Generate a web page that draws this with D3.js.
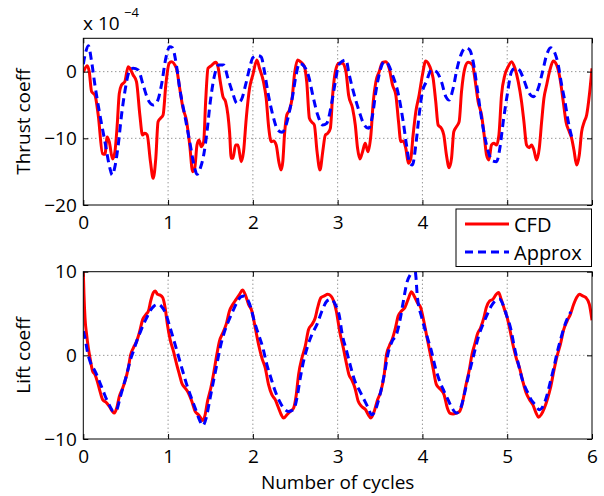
<!DOCTYPE html>
<html>
<head>
<meta charset="utf-8">
<script src="https://cdn.jsdelivr.net/npm/d3@7"></script>
<style>
body { margin: 0; background: #fff; }
svg { font-family: "Open Sans", sans-serif; }
.grid line { stroke: #444; stroke-width: 0.8; stroke-dasharray: 1,3; }
.tick line { stroke: #000; }
</style>
</head>
<body>
<svg width="604" height="496"></svg>
<script>
// tick values
var cycleTicks = [0, 1, 2, 3, 4, 5, 6];
var thrustTicks = [-20, -10, 0];
var liftTicks = [-10, 0, 10];
var seriesNames = ["CFD", "Approx"];

// thrust coefficient (units of 1e-4), [cycles, value]
var thrustCfd = [[0,-0.1],[0.047,0.9],[0.07,0],[0.098,-3],[0.137,-3.5],[0.176,-6.5],[0.227,-12.3],[0.255,-12.4],[0.282,-9.8],[0.306,-10.5],[0.345,-13.1],[0.373,-12],[0.4,-8],[0.424,-3.3],[0.451,-2],[0.49,-1.5],[0.529,0.75],[0.549,0.5],[0.588,-0.5],[0.627,-1.5],[0.667,-6.5],[0.698,-9.5],[0.725,-9.25],[0.753,-9.5],[0.792,-13.5],[0.824,-16],[0.855,-13],[0.882,-7.5],[0.91,-7],[0.941,-6.5],[0.973,-2],[1.012,1.25],[1.039,1.5],[1.098,0.5],[1.137,-2.5],[1.176,-5.5],[1.216,-7.25],[1.255,-11],[1.29,-15],[1.314,-14.5],[1.341,-11],[1.365,-10.25],[1.392,-11.25],[1.42,-10.5],[1.443,-4.5],[1.471,0.5],[1.51,0.9],[1.561,1.4],[1.588,0.75],[1.616,-1.5],[1.647,-3.75],[1.678,-4.5],[1.706,-6.5],[1.725,-9],[1.745,-13],[1.765,-13],[1.796,-11],[1.824,-11],[1.863,-13.5],[1.89,-12],[1.922,-7],[1.961,-2.5],[2.0,-0.5],[2.047,1.75],[2.078,0.5],[2.125,-1.5],[2.157,-4],[2.188,-8.5],[2.216,-10.5],[2.243,-10.4],[2.275,-11],[2.306,-13.5],[2.333,-14.75],[2.353,-13.5],[2.373,-9.5],[2.4,-6.5],[2.431,-5.75],[2.463,-4],[2.49,-0.5],[2.529,1.75],[2.569,1.4],[2.608,0.75],[2.635,-1.5],[2.667,-7],[2.698,-7.6],[2.725,-8],[2.757,-12],[2.792,-14.75],[2.824,-12],[2.855,-9.5],[2.882,-9.25],[2.914,-8.5],[2.941,-3.5],[2.973,0],[3.012,1.25],[3.059,1.25],[3.098,0],[3.129,-3.5],[3.176,-5.5],[3.208,-8],[3.235,-11.5],[3.263,-13.1],[3.294,-12],[3.325,-10.75],[3.357,-12],[3.392,-9.5],[3.42,-4.5],[3.451,-1.5],[3.49,0],[3.529,1.4],[3.569,1.5],[3.608,0.5],[3.647,-2],[3.686,-3.5],[3.718,-7.5],[3.745,-10.5],[3.773,-10.4],[3.804,-11.5],[3.835,-13.75],[3.863,-13],[3.89,-9.5],[3.922,-6],[3.961,-3.5],[4.0,-0.5],[4.039,1.6],[4.087,0.75],[4.126,-1],[4.157,-4.5],[4.185,-8],[4.224,-8.5],[4.252,-9.5],[4.283,-12.5],[4.315,-14.4],[4.343,-13],[4.37,-9],[4.402,-8.25],[4.433,-7.5],[4.461,-3],[4.5,0.5],[4.539,1.4],[4.591,1],[4.618,-1],[4.657,-4.5],[4.697,-6.5],[4.728,-9.5],[4.756,-12.5],[4.783,-13.25],[4.815,-11],[4.843,-10.75],[4.874,-11],[4.902,-9.5],[4.933,-3.5],[4.972,-0.5],[5.012,0.75],[5.051,1.5],[5.091,0.5],[5.13,-1.5],[5.169,-4.5],[5.197,-7.5],[5.228,-11],[5.26,-11.4],[5.287,-11],[5.315,-11.75],[5.346,-13.25],[5.378,-11.5],[5.406,-7.5],[5.433,-4],[5.465,-2],[5.504,0.25],[5.543,1.6],[5.583,1],[5.622,-1],[5.661,-4.5],[5.693,-7.5],[5.732,-9],[5.76,-10],[5.787,-11.75],[5.819,-14],[5.85,-12.5],[5.878,-9],[5.909,-7.5],[5.937,-6.5],[5.969,-3.5],[6.0,0.5]];

var thrustApprox = [[0,1.1],[0.03,3],[0.059,3.9],[0.098,1.5],[0.137,-2],[0.196,-6.5],[0.255,-10.5],[0.314,-14.5],[0.341,-15.5],[0.373,-14.25],[0.412,-11],[0.451,-6.5],[0.49,-3],[0.541,0],[0.588,0.5],[0.647,0.25],[0.706,-2],[0.765,-4.25],[0.824,-5],[0.871,-4.5],[0.922,-2],[0.973,2],[1.02,3.75],[1.051,3.6],[1.098,1],[1.137,-2.5],[1.196,-6.5],[1.255,-10.5],[1.314,-14.5],[1.341,-15.4],[1.38,-14.5],[1.42,-12.5],[1.459,-9],[1.498,-4.5],[1.549,-0.5],[1.6,1],[1.655,1],[1.706,-1],[1.757,-3],[1.812,-4.75],[1.863,-4.25],[1.914,-2],[1.961,0.5],[2.0,2.1],[2.06,2.4],[2.098,2.2],[2.137,0],[2.176,-3],[2.235,-6.5],[2.294,-8.75],[2.345,-9.1],[2.392,-8],[2.431,-6],[2.471,-3.5],[2.51,-0.5],[2.549,1.25],[2.608,0.75],[2.659,-0.75],[2.706,-3.5],[2.765,-6.5],[2.824,-8],[2.871,-7.75],[2.922,-5.25],[2.973,-1.5],[3.012,1],[3.059,1.6],[3.098,1.75],[3.137,-0.5],[3.196,-3.5],[3.255,-6],[3.314,-8],[3.365,-8.5],[3.412,-6.5],[3.451,-3],[3.498,0],[3.549,1.5],[3.588,1.25],[3.647,-0.5],[3.718,-3.5],[3.773,-7.5],[3.812,-11],[3.851,-13.75],[3.882,-14],[3.922,-11],[3.961,-6.5],[4.0,-3],[4.047,-1.5],[4.106,0.25],[4.165,0],[4.224,-1.5],[4.276,-3.75],[4.315,-4.25],[4.362,-2.5],[4.409,0.5],[4.461,2.75],[4.512,3.6],[4.559,3.25],[4.598,1.5],[4.646,-2.5],[4.685,-6],[4.724,-9],[4.776,-12],[4.827,-13.4],[4.874,-13.5],[4.913,-11.5],[4.953,-7.5],[5.0,-3.5],[5.051,0],[5.091,0.5],[5.142,0.25],[5.197,-1.25],[5.248,-3],[5.307,-3.75],[5.366,-2.5],[5.417,0],[5.465,2.5],[5.512,3.6],[5.563,2.75],[5.602,1],[5.642,-2],[5.681,-4.5],[5.72,-7.5],[5.76,-9.75]];

// lift coefficient, [cycles, value]
var liftCfd = [[0,10],[0.008,7.3],[0.02,4.5],[0.039,2.5],[0.059,0.9],[0.079,-0.3],[0.11,-1.9],[0.138,-2.3],[0.165,-3.1],[0.197,-4.3],[0.228,-5.3],[0.268,-5.6],[0.307,-6.1],[0.343,-6.7],[0.366,-6.9],[0.394,-6.3],[0.425,-4.9],[0.465,-3.9],[0.492,-3.1],[0.531,-1.5],[0.559,0.1],[0.591,0.9],[0.63,1.7],[0.661,2.7],[0.701,4.3],[0.74,4.9],[0.768,5.3],[0.795,6.5],[0.827,7.5],[0.85,7.7],[0.874,7.3],[0.906,7.2],[0.937,6.9],[0.965,5.7],[0.992,3.7],[1.024,1.9],[1.063,0.5],[1.102,-1.1],[1.134,-2.3],[1.161,-3.3],[1.201,-3.9],[1.24,-4.5],[1.28,-5.5],[1.319,-6.7],[1.358,-7.1],[1.386,-7.5],[1.409,-7.8],[1.437,-7.1],[1.465,-5.5],[1.504,-3.9],[1.535,-2.3],[1.575,0.1],[1.606,1.7],[1.646,2.7],[1.685,3.7],[1.724,5.3],[1.764,6.1],[1.803,6.7],[1.843,7.3],[1.878,7.8],[1.909,7.3],[1.949,6.1],[1.988,5.3],[2.028,3.3],[2.067,1.3],[2.106,-0.3],[2.146,-1.5],[2.185,-3.5],[2.224,-4.7],[2.264,-5.3],[2.303,-6.3],[2.335,-7.1],[2.362,-7.5],[2.402,-7.1],[2.441,-6.7],[2.48,-6.3],[2.512,-4.7],[2.539,-2.3],[2.579,-0.3],[2.618,1.1],[2.657,3.1],[2.697,3.7],[2.736,4.5],[2.764,5.7],[2.803,6.9],[2.843,7.1],[2.882,7.3],[2.921,7.1],[2.953,6.5],[2.984,5.3],[3.027,2.7],[3.067,0.9],[3.106,-1.1],[3.133,-2.3],[3.165,-2.9],[3.204,-3.9],[3.243,-5.5],[3.282,-6.1],[3.329,-6.5],[3.361,-7.1],[3.392,-7.5],[3.431,-6.7],[3.471,-5.3],[3.51,-4.3],[3.549,-2.3],[3.576,0.1],[3.608,1.1],[3.643,1.9],[3.682,3.3],[3.714,4.7],[3.753,5.3],[3.792,5.7],[3.831,6.7],[3.871,7.6],[3.902,7.1],[3.941,6.3],[3.98,5.7],[4.008,4.5],[4.047,2.5],[4.086,0.5],[4.125,-1.5],[4.165,-3.5],[4.216,-4.1],[4.255,-4.7],[4.294,-6.3],[4.322,-6.9],[4.361,-7.0],[4.4,-6.9],[4.439,-6.7],[4.467,-5.9],[4.506,-3.9],[4.557,-1.5],[4.584,0.1],[4.616,1.3],[4.647,2.5],[4.686,3.3],[4.725,4.5],[4.753,5.7],[4.792,6.5],[4.831,6.7],[4.871,7.3],[4.898,7.5],[4.929,6.7],[4.961,5.7],[5.0,4.5],[5.027,3.3],[5.067,1.3],[5.106,-0.3],[5.145,-1.5],[5.184,-3.1],[5.224,-4.5],[5.263,-5.3],[5.302,-5.9],[5.341,-6.9],[5.369,-7.4],[5.4,-7.1],[5.439,-6.3],[5.478,-5.1],[5.51,-3.9],[5.549,-1.9],[5.588,-0.1],[5.627,1.3],[5.667,3.1],[5.706,4.1],[5.745,4.9],[5.784,6.1],[5.824,7.0],[5.851,7.3],[5.89,7.1],[5.929,6.9],[5.969,6.1],[6.0,4.2]];

var liftApprox = [[0,2.9],[0.02,2.1],[0.047,0.5],[0.079,-0.7],[0.118,-1.5],[0.157,-2.3],[0.197,-3.3],[0.236,-4.3],[0.276,-5.3],[0.315,-6.1],[0.354,-6.7],[0.394,-6.5],[0.433,-5.1],[0.472,-3.7],[0.512,-2.3],[0.551,-0.7],[0.591,0.5],[0.63,1.7],[0.669,2.7],[0.709,3.7],[0.748,4.5],[0.787,5.3],[0.835,5.9],[0.886,6.1],[0.925,5.8],[0.976,4.9],[1.024,3.3],[1.071,1.7],[1.122,-0.1],[1.173,-1.9],[1.22,-3.5],[1.268,-4.9],[1.319,-6.3],[1.37,-7.7],[1.409,-8.4],[1.449,-7.5],[1.496,-5.1],[1.535,-3.1],[1.575,-1.1],[1.614,0.9],[1.661,2.7],[1.713,4.1],[1.764,5.3],[1.811,6.3],[1.858,7.0],[1.898,7.1],[1.937,6.7],[1.976,5.7],[2.016,4.1],[2.067,2.5],[2.118,0.9],[2.165,-1.1],[2.213,-2.7],[2.264,-4.3],[2.315,-5.5],[2.362,-6.3],[2.421,-6.7],[2.48,-6.5],[2.52,-5.1],[2.559,-2.7],[2.598,-0.7],[2.646,1.1],[2.697,2.5],[2.756,3.7],[2.815,5.3],[2.874,6.5],[2.921,6.7],[2.972,6.1],[3.024,4.5],[3.047,2.9],[3.106,0.5],[3.157,-1.5],[3.204,-3.1],[3.263,-4.3],[3.322,-5.5],[3.361,-6.3],[3.4,-7.1],[3.439,-6.7],[3.478,-5.5],[3.518,-3.9],[3.557,-1.9],[3.596,0.3],[3.643,1.7],[3.694,2.5],[3.733,4.1],[3.774,6.4],[3.814,8.6],[3.873,10.0],[3.9,10.8],[3.923,9.4],[3.94,7.0],[3.99,4.6],[4.059,2.1],[4.106,0.5],[4.153,-1.5],[4.204,-3.1],[4.255,-4.3],[4.302,-5.3],[4.349,-6.3],[4.4,-6.9],[4.451,-6.3],[4.498,-4.5],[4.537,-2.7],[4.576,-1.1],[4.616,0.5],[4.663,2.3],[4.714,3.7],[4.765,4.9],[4.812,5.9],[4.859,6.5],[4.91,6.7],[4.949,6.1],[4.988,4.9],[5.039,3.3],[5.086,0.9],[5.133,-1.1],[5.184,-3.1],[5.235,-4.3],[5.282,-5.3],[5.329,-5.9],[5.38,-6.5],[5.431,-5.9],[5.471,-4.7],[5.51,-3.1],[5.549,-1.5],[5.588,0.3],[5.635,2.1],[5.682,3.7],[5.733,4.9],[5.75,5.2]];

var svg = d3.select("svg"),
    fontSize = 19;

var x = d3.scaleLinear().domain([0, 6]).range([83.3, 592]);
var yThrust = d3.scaleLinear().domain([-20, 5]).range([205, 38.3]);
var yLift = d3.scaleLinear().domain([-10, 10]).range([439, 271.7]);

var color = d3.scaleOrdinal().domain(seriesNames).range(["#ff0000", "#0000ff"]);
var dash = { "CFD": null, "Approx": "8,5" };
var fmt = d3.format("~g");

// legend box, it sits over the top panel's x labels
var legendBox = { x: 456, y: 209, w: 135.5, h: 57.5 };

//Helper to draw one panel with grid, lines, ticks and frame
function drawPanel(y, yTicks, cfd, approx, label, id) {
  var g = svg.append("g").attr("class", "panel");
  var x0 = x.range()[0], x1 = x.range()[1],
      yTop = y.range()[1], yBot = y.range()[0];

  svg.append("clipPath").attr("id", id)
    .append("rect")
    .attr("x", x0).attr("y", yTop)
    .attr("width", x1 - x0).attr("height", yBot - yTop);

  // dotted grid
  var grid = g.append("g").attr("class", "grid");
  grid.selectAll(".gx")
    .data(cycleTicks.filter(function(d) { return d > 0 && d < 6; }))
    .enter().append("line")
    .attr("x1", function(d) { return x(d); })
    .attr("x2", function(d) { return x(d); })
    .attr("y1", yTop).attr("y2", yBot);
  grid.selectAll(".gy")
    .data(yTicks.filter(function(d) { return y(d) > yTop + 1 && y(d) < yBot - 1; }))
    .enter().append("line")
    .attr("x1", x0).attr("x2", x1)
    .attr("y1", function(d) { return y(d); })
    .attr("y2", function(d) { return y(d); });

  var line = d3.line()
    .curve(d3.curveMonotoneX)
    .x(function(d) { return x(d[0]); })
    .y(function(d) { return y(d[1]); });

  var series = [{ name: "CFD", values: cfd }, { name: "Approx", values: approx }];
  g.append("g").attr("clip-path", "url(#" + id + ")")
    .selectAll("path")
    .data(series)
    .enter().append("path")
    .attr("fill", "none")
    .attr("stroke", function(d) { return color(d.name); })
    .attr("stroke-width", 3)
    .attr("stroke-dasharray", function(d) { return dash[d.name]; })
    .attr("d", function(d) { return line(d.values); });

  // labels hidden under the legend are not drawn
  var xFormat = function(d) {
    var px = x(d);
    var hidden = yBot < legendBox.y + legendBox.h && yBot + 30 > legendBox.y &&
      px + 8 > legendBox.x && px - 8 < legendBox.x + legendBox.w;
    return hidden ? "" : fmt(d);
  };

  // axes with inward ticks
  var bottom = g.append("g")
    .attr("transform", "translate(0," + yBot + ")")
    .call(d3.axisBottom(x).tickValues(cycleTicks).tickSize(-5).tickPadding(11).tickFormat(xFormat));
  var top = g.append("g")
    .attr("transform", "translate(0," + yTop + ")")
    .call(d3.axisTop(x).tickValues(cycleTicks).tickSize(-5).tickFormat(""));
  var left = g.append("g")
    .attr("transform", "translate(" + x0 + ",0)")
    .call(d3.axisLeft(y).tickValues(yTicks).tickSize(-5).tickPadding(6.5).tickFormat(fmt));
  var right = g.append("g")
    .attr("transform", "translate(" + x1 + ",0)")
    .call(d3.axisRight(y).tickValues(yTicks).tickSize(-5).tickFormat(""));

  [bottom, top, left, right].forEach(function(a) {
    a.select(".domain").remove();
    a.attr("font-family", null).attr("font-size", fontSize);
    a.selectAll("text").attr("fill", "#000");
  });

  g.append("rect")
    .attr("x", x0).attr("y", yTop)
    .attr("width", x1 - x0).attr("height", yBot - yTop)
    .attr("fill", "none").attr("stroke", "#000").attr("stroke-width", 1);

  g.append("text")
    .attr("transform", "translate(30," + ((yTop + yBot) / 2) + ") rotate(-90)")
    .attr("text-anchor", "middle")
    .attr("font-size", fontSize)
    .text(label);
}

drawPanel(yThrust, thrustTicks, thrustCfd, thrustApprox, "Thrust coeff", "clipThrust");
drawPanel(yLift, liftTicks, liftCfd, liftApprox, "Lift coeff", "clipLift");

// exponent label of the thrust axis
var expo = svg.append("text").attr("x", 83).attr("y", 30).attr("font-size", fontSize);
expo.append("tspan").text("x 10");
expo.append("tspan").attr("x", 124).attr("y", 17).attr("font-size", 13).text("\u22124");

svg.append("text")
  .attr("x", (x.range()[0] + x.range()[1]) / 2)
  .attr("y", 489)
  .attr("text-anchor", "middle")
  .attr("font-size", fontSize)
  .text("Number of cycles");

// legend
var legend = svg.append("g").attr("transform", "translate(" + legendBox.x + "," + legendBox.y + ")");
legend.append("rect")
  .attr("width", legendBox.w).attr("height", legendBox.h)
  .attr("fill", "#fff").attr("stroke", "#000").attr("stroke-width", 1);
var item = legend.selectAll(".item")
  .data(seriesNames)
  .enter().append("g")
  .attr("transform", function(d, i) { return "translate(0," + (15 + i * 28) + ")"; });
item.append("line")
  .attr("x1", 9).attr("x2", 53)
  .attr("stroke", function(d) { return color(d); })
  .attr("stroke-width", 3)
  .attr("stroke-dasharray", function(d) { return dash[d]; });
item.append("text")
  .attr("x", 58).attr("y", 8)
  .attr("font-size", fontSize + 1)
  .text(function(d) { return d; });
</script>
</body>
</html>
